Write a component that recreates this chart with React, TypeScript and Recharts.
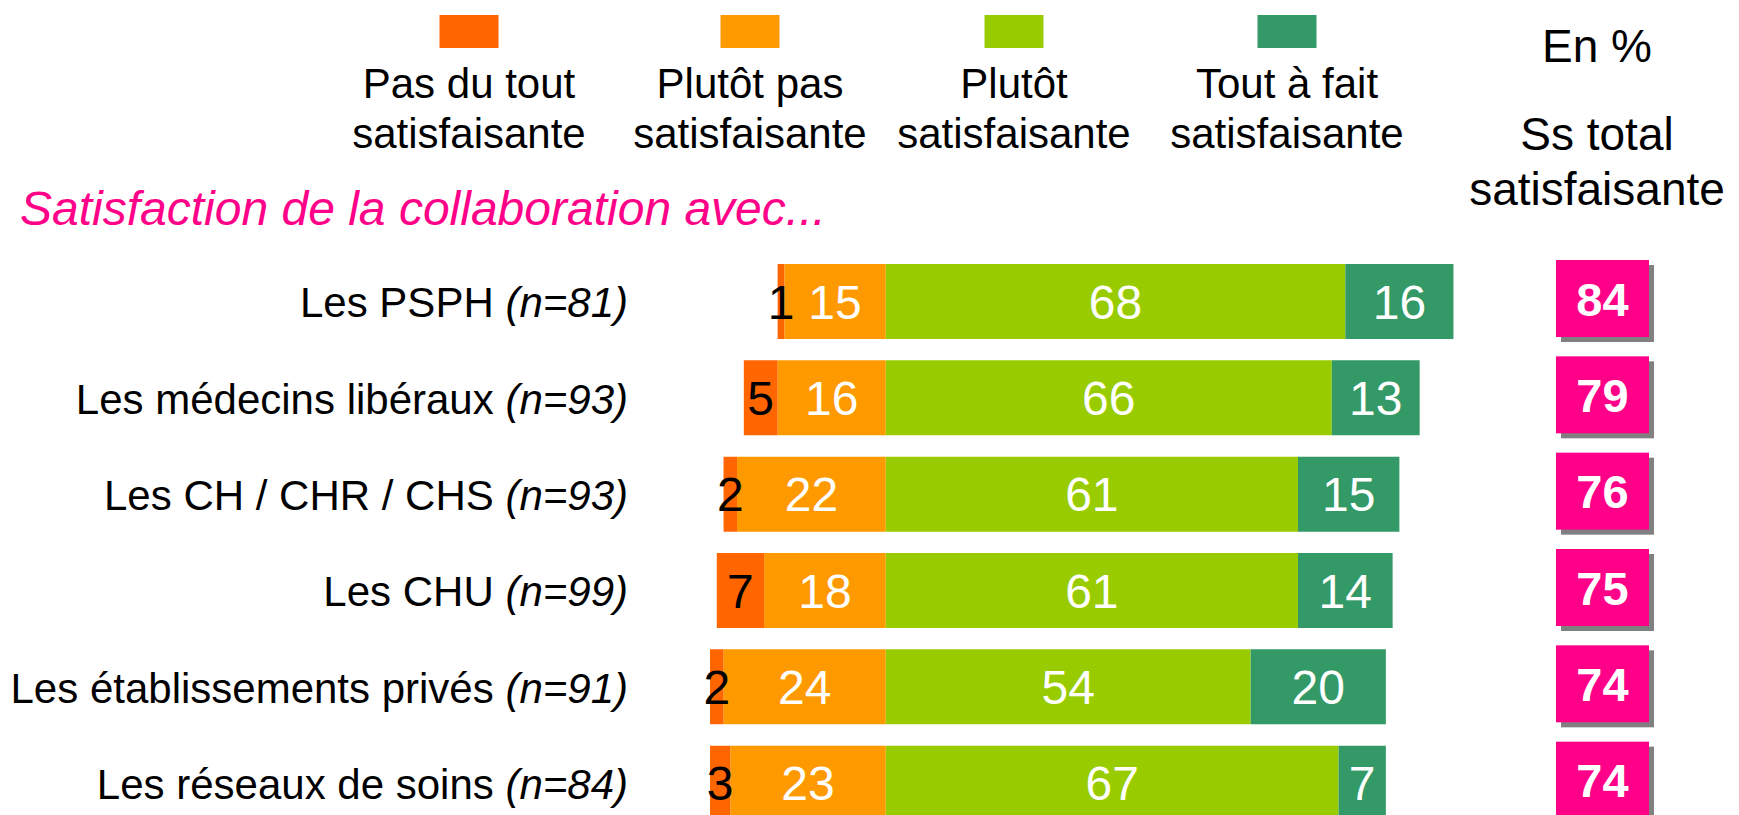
import React from 'react'
import { BarChart, Bar, XAxis, YAxis, LabelList } from 'recharts'

const categories = [
    'Les PSPH',
    'Les médecins libéraux',
    'Les CH / CHR / CHS',
    'Les CHU',
    'Les établissements privés',
    'Les réseaux de soins',
]
const sampleSizes = [81, 93, 93, 99, 91, 84]
const pasDuTout = [1, 5, 2, 7, 2, 3]
const plutotPas = [15, 16, 22, 18, 24, 23]
const plutot = [68, 66, 61, 61, 54, 67]
const toutAFait = [16, 13, 15, 14, 20, 7]
const ssTotal = [84, 79, 76, 75, 74, 74]

const seriesLabels = [
    ['Pas du tout', 'satisfaisante'],
    ['Plutôt pas', 'satisfaisante'],
    ['Plutôt', 'satisfaisante'],
    ['Tout à fait', 'satisfaisante'],
]

const COLORS = {
    PAS: '#FF6600',
    PLUTOT_PAS: '#FF9900',
    PLUTOT: '#99CC00',
    TOUT: '#339966',
    PINK: '#FF0088',
    SHADOW: '#808080',
}
const seriesColors = [COLORS.PAS, COLORS.PLUTOT_PAS, COLORS.PLUTOT, COLORS.TOUT]

const FONT = "'Liberation Sans', Arial, Helvetica, sans-serif"

const rows = categories.map((name, i) => ({
    name,
    n: sampleSizes[i],
    pas: pasDuTout[i],
    pasNeg: -pasDuTout[i],
    plutotPas: plutotPas[i],
    plutotPasNeg: -plutotPas[i],
    plutot: plutot[i],
    tout: toutAFait[i],
    total: ssTotal[i],
}))

const CategoryTick = (props: any) => {
    const { y, payload } = props
    const row = rows.find((r) => r.name === payload.value)
    return (
        <text x={628} y={y + 16} textAnchor="end" fontSize={42} fill="#000" fontFamily={FONT} style={{ whiteSpace: 'pre' }}>
            <tspan>{payload.value + ' '}</tspan>
            <tspan fontStyle="italic">(n={row ? row.n : ''})</tspan>
        </text>
    )
}

// pink "sous total" box drawn next to each row
const TotalBox = (props: any) => {
    const vb = props.viewBox || props
    const cy = vb.y + vb.height / 2 - 3
    const x = 1556
    const w = 93
    const h = 77
    return (
        <g>
            <rect x={x + 5} y={cy - h / 2 + 5} width={w} height={h} fill={COLORS.SHADOW} />
            <rect x={x} y={cy - h / 2} width={w} height={h} fill={COLORS.PINK} />
            <text x={x + w / 2} y={cy + 17} textAnchor="middle" fontSize={47} fontWeight="bold" fill="#fff" fontFamily={FONT}>
                {props.value}
            </text>
        </g>
    )
}

const valueLabel = (color: string) => ({
    position: 'center' as const,
    fill: color,
    fontSize: 48,
    fontFamily: FONT,
})

const legendCenters = [469, 750, 1014, 1287]

export default function App() {
    return (
        <div
            style={{
                position: 'absolute',
                left: 0,
                top: 0,
                width: 1739,
                height: 815,
                overflow: 'hidden',
                background: '#fff',
                fontFamily: FONT,
            }}
        >
            <div style={{ position: 'absolute', left: 0, top: 0 }}>
                <BarChart
                    width={1739}
                    height={831}
                    layout="vertical"
                    data={rows}
                    stackOffset="sign"
                    margin={{ top: 253, right: 245, bottom: 0, left: 0 }}
                >
                    <XAxis type="number" domain={[-30, 90]} allowDataOverflow hide />
                    <YAxis
                        type="category"
                        dataKey="name"
                        width={683}
                        axisLine={false}
                        tickLine={false}
                        interval={0}
                        tick={<CategoryTick />}
                    />
                    <Bar dataKey="plutotPasNeg" stackId="s" fill={COLORS.PLUTOT_PAS} barSize={75} isAnimationActive={false}>
                        <LabelList dataKey="plutotPas" {...valueLabel('#fff')} />
                    </Bar>
                    <Bar dataKey="pasNeg" stackId="s" fill={COLORS.PAS} barSize={75} isAnimationActive={false}>
                        <LabelList dataKey="pas" {...valueLabel('#000')} />
                    </Bar>
                    <Bar dataKey="plutot" stackId="s" fill={COLORS.PLUTOT} barSize={75} isAnimationActive={false}>
                        <LabelList dataKey="plutot" {...valueLabel('#fff')} />
                    </Bar>
                    <Bar dataKey="tout" stackId="s" fill={COLORS.TOUT} barSize={75} isAnimationActive={false}>
                        <LabelList dataKey="tout" {...valueLabel('#fff')} />
                        <LabelList dataKey="total" content={<TotalBox />} />
                    </Bar>
                </BarChart>
            </div>
            <svg width={1739} height={815} style={{ position: 'absolute', left: 0, top: 0, pointerEvents: 'none' }}>
                {seriesLabels.map((lines, i) => (
                    <g key={i}>
                        <rect x={legendCenters[i] - 29.5} y={15} width={59} height={33} fill={seriesColors[i]} />
                        {lines.map((line, j) => (
                            <text
                                key={j}
                                x={legendCenters[i]}
                                y={98 + j * 50}
                                textAnchor="middle"
                                fontSize={42}
                                fontFamily={FONT}
                                fill="#000"
                            >
                                {line}
                            </text>
                        ))}
                    </g>
                ))}
                <text x={1597} y={62} textAnchor="middle" fontSize={46} fontFamily={FONT}>
                    En %
                </text>
                <text x={1597} y={150} textAnchor="middle" fontSize={46} fontFamily={FONT}>
                    Ss total
                </text>
                <text x={1597} y={205} textAnchor="middle" fontSize={46} fontFamily={FONT}>
                    satisfaisante
                </text>
                <text x={20} y={225} fontSize={48} fontStyle="italic" fill={COLORS.PINK} fontFamily={FONT}>
                    Satisfaction de la collaboration avec...
                </text>
            </svg>
        </div>
    )
}
